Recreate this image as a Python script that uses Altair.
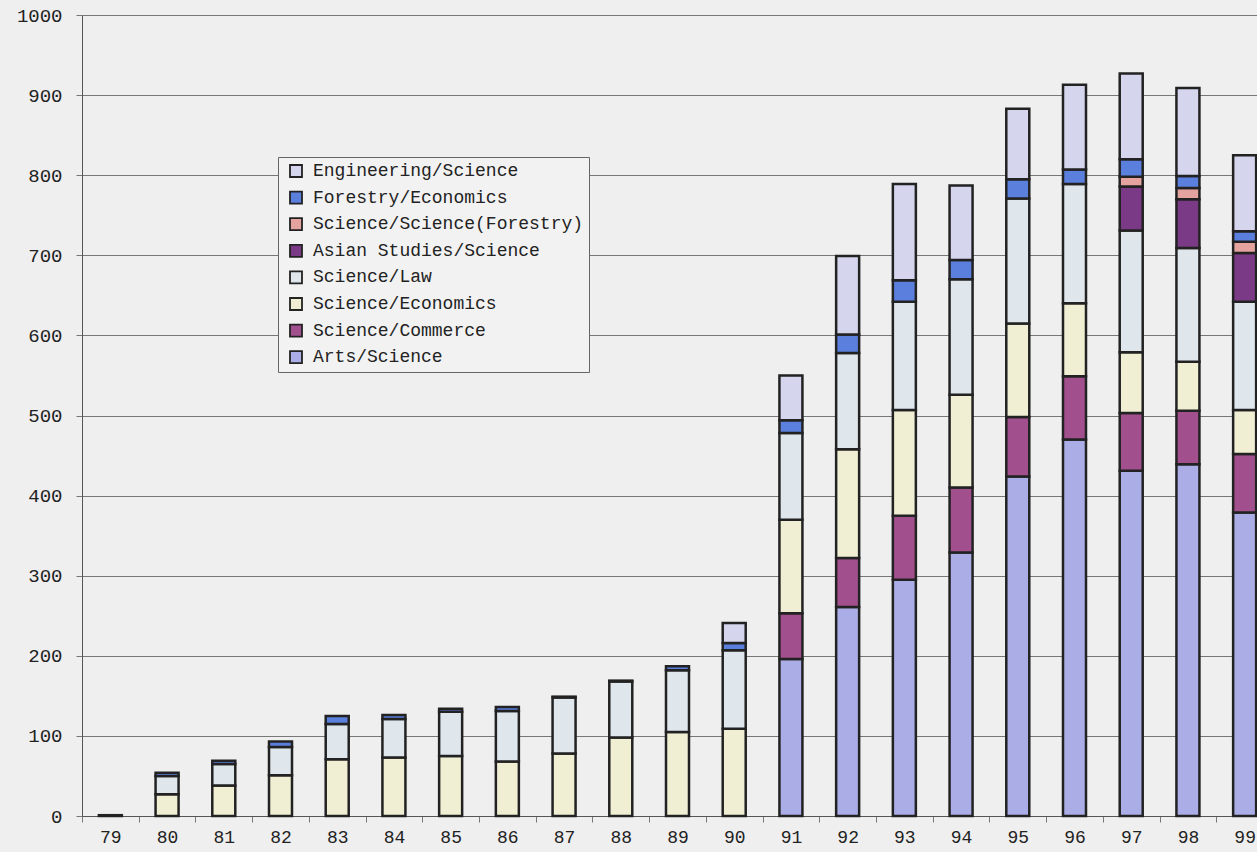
import altair as alt
import pandas as pd

# Academic years (19xx)
years = ["79", "80", "81", "82", "83", "84", "85", "86", "87", "88", "89",
         "90", "91", "92", "93", "94", "95", "96", "97", "98", "99"]

# Enrolments per combined-degree programme, one value per year
arts_science = [0, 0, 0, 0, 0, 0, 0, 0, 0, 0, 0, 0,
                196, 261, 295, 329, 424, 470, 431, 439, 379]
science_commerce = [0, 0, 0, 0, 0, 0, 0, 0, 0, 0, 0, 0,
                    57, 61, 80, 81, 74, 79, 72, 67, 73]
science_economics = [1, 27, 38, 51, 71, 73, 75, 68, 78, 98, 105, 109,
                     117, 136, 132, 116, 117, 91, 76, 61, 55]
science_law = [0, 23, 27, 35, 44, 48, 55, 63, 70, 70, 77, 98,
               108, 120, 135, 144, 156, 149, 152, 142, 135]
asian_science = [0, 0, 0, 0, 0, 0, 0, 0, 0, 0, 0, 0,
                 0, 0, 0, 0, 0, 0, 55, 61, 61]
science_forestry = [0, 0, 0, 0, 0, 0, 0, 0, 0, 0, 0, 0,
                    0, 0, 0, 0, 0, 0, 12, 14, 14]
forestry_economics = [0, 4, 4, 7, 10, 5, 4, 5, 1, 1, 5, 9,
                      16, 23, 27, 24, 24, 18, 22, 15, 13]
engineering_science = [0, 0, 0, 0, 0, 0, 0, 0, 0, 0, 0, 25,
                       56, 98, 120, 93, 88, 106, 107, 110, 95]

# Stacking order, bottom to top
series = [
    ("Arts/Science", arts_science, "#abaee6"),
    ("Science/Commerce", science_commerce, "#a24f8e"),
    ("Science/Economics", science_economics, "#f1efd3"),
    ("Science/Law", science_law, "#dfe7ed"),
    ("Asian Studies/Science", asian_science, "#7b3a86"),
    ("Science/Science(Forestry)", science_forestry, "#e4a39f"),
    ("Forestry/Economics", forestry_economics, "#5b7fdc"),
    ("Engineering/Science", engineering_science, "#d5d5ee"),
]

rows = []
for idx, (name, values, _) in enumerate(series):
    for yr, v in zip(years, values):
        if v > 0:
            rows.append({"year": yr, "degree": name, "students": v, "stack": idx})
df = pd.DataFrame(rows)

# Legend lists the top of the stack first
legend_domain = [s[0] for s in reversed(series)]
legend_range = [s[2] for s in reversed(series)]

chart = alt.Chart(df).mark_bar(
    size=23, stroke="#222222", strokeWidth=2.5
).encode(
    x=alt.X("year:N", sort=years, title=None,
            scale=alt.Scale(domain=years, range=[0, 1191], paddingInner=0, paddingOuter=0),
            axis=alt.Axis(labelAngle=0, tickBand="extent", labelPadding=6,
                          labelFontSize=18,
                          tickSize=6, domainColor="#555555", tickColor="#777777")),
    y=alt.Y("sum(students):Q", title=None,
            scale=alt.Scale(domain=[0, 1000], nice=False),
            axis=alt.Axis(values=list(range(0, 1001, 100)), format="d",
                          tickSize=6, labelPadding=14, labelFontSize=19,
                          domainColor="#555555", tickColor="#777777",
                          gridColor="#777777", gridWidth=1)),
    color=alt.Color("degree:N",
                    scale=alt.Scale(domain=legend_domain, range=legend_range),
                    legend=alt.Legend(title=None, orient="none", legendX=196, legendY=142)),
    order=alt.Order("stack:Q", sort="ascending"),
).properties(
    width=1175, height=801,
    autosize=alt.AutoSizeParams(type="none"),
    padding={"left": 82, "top": 15, "right": 0, "bottom": 36},
    background="#efefef",
).configure_view(
    stroke=None
).configure_axis(
    labelFont="Liberation Mono", labelColor="#222222",
    grid=True,
).configure_axisX(
    grid=False
).configure_legend(
    labelFont="Liberation Mono", labelFontSize=18, labelColor="#222222",
    labelLimit=400, symbolType="square", symbolSize=144,
    symbolStrokeColor="#222222", symbolStrokeWidth=1.8, symbolOffset=4,
    strokeColor="#666666", fillColor="#f2f2f2", padding=5, rowPadding=6.6,
    labelOffset=8, cornerRadius=0,
)

chart.save("out.html", embed_options={"renderer": "svg", "actions": False})
